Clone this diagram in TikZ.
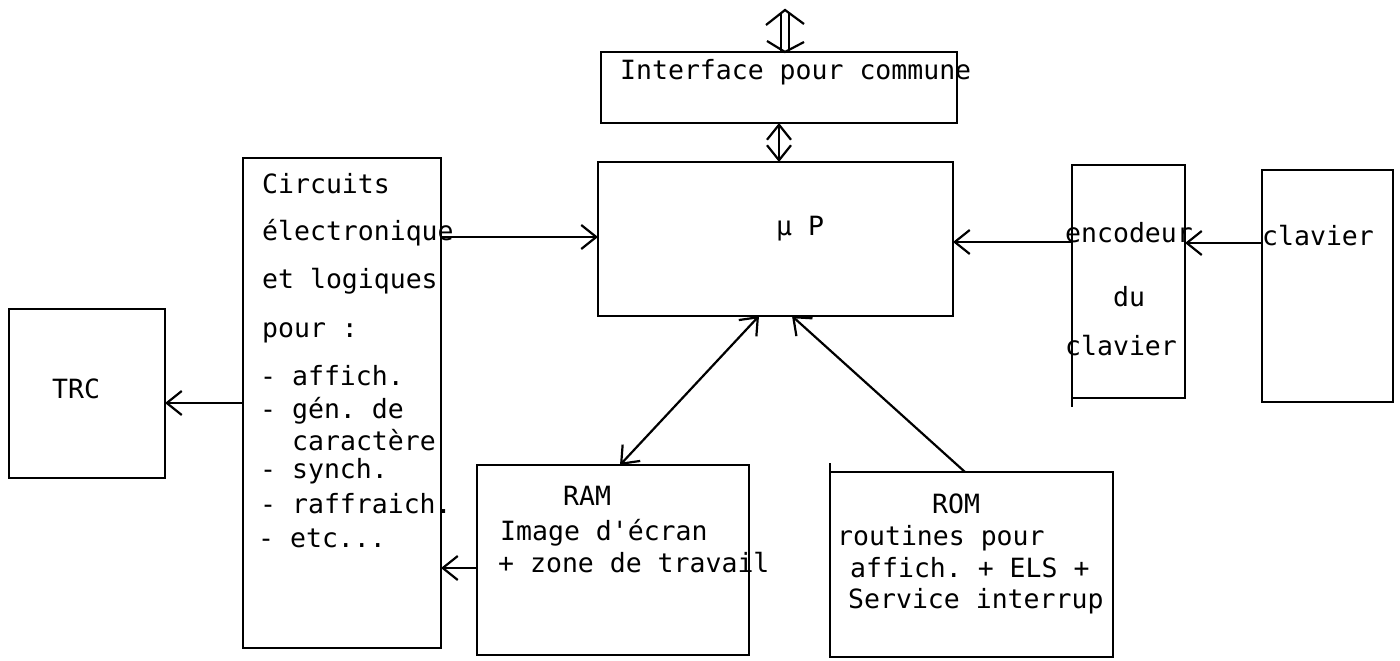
\documentclass[tikz,border=0pt]{standalone}
\usepackage{fontspec}
\setmonofont{DejaVu Sans Mono}
\usetikzlibrary{arrows.meta}
\begin{document}
\begin{tikzpicture}[x=1pt,y=-1pt,
  box/.style={draw, line width=2.8pt, inner sep=0pt, outer sep=0pt},
  lbl/.style={anchor=base west, inner sep=0pt, font=\ttfamily\fontsize{26.5}{30}\selectfont},
  conn/.style={line width=2.2pt},
  arr/.style={conn, -{Straight Barb[length=15pt,width=24pt]}},
  darr/.style={conn, {Straight Barb[length=15pt,width=24pt]}-{Straight Barb[length=15pt,width=24pt]}}
]
\useasboundingbox (0,0) rectangle (1400,661);
\fill[white] (0,0) rectangle (1400,661);

% boxes
\node[box, minimum width=356pt, minimum height=71pt]  (iface) at (779,87.5) {};
\node[box, minimum width=355pt, minimum height=154pt] (mup)   at (775.5,239) {};
\node[box, minimum width=198pt, minimum height=490pt] (circ)  at (342,403) {};
\node[box, minimum width=156pt, minimum height=169pt] (trc)   at (87,393.5) {};
\node[box, minimum width=272pt, minimum height=190pt] (ram)   at (613,560) {};
\node[box, minimum width=283pt, minimum height=185pt] (rom)   at (971.5,564.5) {};
\node[box, minimum width=113pt, minimum height=233pt] (enc)   at (1128.5,281.5) {};
\node[box, minimum width=131pt, minimum height=232pt] (clav)  at (1327.5,286) {};
% hand-drawn overhangs of box edges
\draw[line width=2.8pt] (rom.north west) -- ([yshift=9pt]rom.north west);
\draw[line width=2.8pt] (enc.south west) -- ([yshift=-9pt]enc.south west);

% texts
\node[lbl] (tif) at (620,79) {Interface pour commune};
\node[lbl] (tmp) at (776,235) {µ P};
\node[lbl] (tc1) at (262,193) {Circuits};
\node[lbl] (tc2) at (262,240) {électronique};
\node[lbl] (tc3) at (262,288) {et logiques};
\node[lbl] (tc4) at (262,337) {pour :};
\node[lbl] (tc5) at (260,385) {- affich.};
\node[lbl] (tc6) at (260,418) {- gén. de};
\node[lbl] (tc7) at (292,450) {caractère};
\node[lbl] (tc8) at (260,478) {- synch.};
\node[lbl] (tc9) at (260,513) {- raffraich.};
\node[lbl] (tc10) at (258,547) {- etc...};
\node[lbl] (ttrc) at (52,398) {TRC};
\node[lbl] (tr1) at (563,505) {RAM};
\node[lbl] (tr2) at (500,540) {Image d'écran};
\node[lbl] (tr3) at (498,572) {+ zone de travail};
\node[lbl] (to1) at (932,513) {ROM};
\node[lbl] (to2) at (837,545) {routines pour};
\node[lbl] (to3) at (850,577) {affich. + ELS +};
\node[lbl] (to4) at (848,608) {Service interrup};
\node[lbl] (te1) at (1065,242) {encodeur};
\node[lbl] (te2) at (1113,306) {du};
\node[lbl] (te3) at (1065,355) {clavier};
\node[lbl] (tk1) at (1262,245) {clavier};

% top double arrow
\coordinate (tt) at (785,10);
\coordinate (tb) at (iface.north -| tt);
\draw[conn] ([shift={(-4pt,-3pt)}]tt) -- ([xshift=-4pt]tb);
\draw[conn] ([shift={(4pt,-3pt)}]tt) -- ([xshift=4pt]tb);
\draw[conn, line join=miter] ([shift={(-19pt,-15pt)}]tt) -- (tt) -- ([shift={(19pt,-14pt)}]tt);
\draw[conn, line join=miter] ([shift={(-18pt,11pt)}]tb) -- (tb) -- ([shift={(19pt,10pt)}]tb);

% connectors
\draw[darr] (iface.south) -- (iface.south |- mup.north);
\coordinate (yA) at (0,237);
\draw[arr] (circ.east |- yA) -- (mup.west |- yA);
\coordinate (yT) at (0,403);
\draw[arr] (circ.west |- yT) -- (trc.east |- yT);
\coordinate (yR) at (0,568);
\draw[arr] (ram.west |- yR) -- (circ.east |- yR);
\coordinate (xRa) at (620,0);
\coordinate (xRb) at (759,0);
\draw[darr] (ram.north -| xRa) -- (mup.south -| xRb);
\coordinate (xOa) at (965,0);
\coordinate (xOb) at (792,0);
\draw[arr] (rom.north -| xOa) -- (mup.south -| xOb);
\coordinate (yE) at (0,242);
\draw[arr] (enc.west |- yE) -- (mup.east |- yE);
\coordinate (yC) at (0,243);
\draw[arr] (clav.west |- yC) -- (enc.east |- yC);
\end{tikzpicture}
\end{document}
